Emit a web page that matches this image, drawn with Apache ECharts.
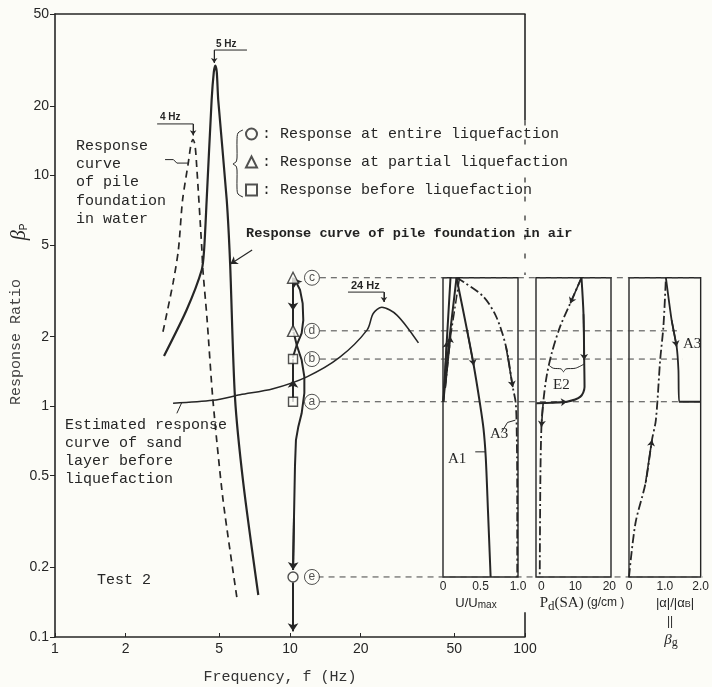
<!DOCTYPE html>
<html><head><meta charset="utf-8">
<script src="https://cdn.jsdelivr.net/npm/echarts@6/dist/echarts.min.js"></script>
<style>html,body{margin:0;padding:0;background:#fcfcf7}#c{width:712px;height:687px}</style>
</head><body><div id="c"></div>
<script>
// ================= DATA =================
const freqTicks  = [1, 2, 5, 10, 20, 50, 100];
const ratioTicks = [0.1, 0.2, 0.5, 1, 2, 5, 10, 20, 50];

// response curve of pile foundation in water (dashed)
const waterFreq  = [2.88, 3.18, 3.35, 3.49, 3.69, 3.79, 3.86, 3.94, 4.01, 4.21, 4.26, 4.43, 4.70, 5.19, 5.95];
const waterRatio = [2.10, 3.42, 4.75, 7.82, 11.3, 13.6, 14.3, 13.6, 10.9, 4.91, 3.89, 2.43, 1.06, 0.392, 0.147];
// response curve of pile foundation in air (solid)
const airFreq  = [2.91, 3.63, 4.21, 4.31, 4.42, 4.64, 4.74, 4.81, 4.88, 4.95, 5.38, 5.56, 5.83, 6.33, 7.33];
const airRatio = [1.65, 2.61, 3.89, 4.75, 7.82, 21.2, 28.0, 29.9, 28.0, 21.2, 7.82, 4.17, 1.10, 0.463, 0.152];
// estimated response curve of sand layer before liquefaction
const sandFreq  = [3.18, 4.70, 6.13, 8.47, 11.8, 16.3, 21.3, 22.6, 24.6, 26.6, 28.5, 31.4, 35.2];
const sandRatio = [1.03, 1.06, 1.12, 1.19, 1.34, 1.63, 2.14, 2.52, 2.68, 2.61, 2.48, 2.21, 1.88];

// response states at ~10 Hz
const levelNames = ['c', 'd', 'b', 'a', 'e'];
const levelRatio = [3.6, 2.12, 1.60, 1.045, 0.182];
const levelLineEndFreq = [572, 443, 470, 570, 572];
const markerFreq = 10.3;
const labelFreq = 12.4;
const levelLineStartFreq = 13.4;

// path of the response at ~10 Hz
const pathABFreq = [10.3, 10.3, 10.3],  pathABRatio = [1.045, 1.30, 1.60];
const pathBCFreq = [10.27, 10.68, 11.21, 11.39, 11.32, 11.03, 10.60, 10.35];
const pathBCRatio = [1.62, 1.84, 2.07, 2.36, 2.79, 3.19, 3.46, 3.58];
const pathCDFreq = [10.3, 10.3, 10.3], pathCDRatio = [3.6, 2.6, 2.12];
const pathDEFreq = [10.35, 10.68, 11.21, 11.51, 11.51, 11.21, 10.85, 10.60, 10.50, 10.40, 10.30];
const pathDERatio = [2.10, 1.84, 1.585, 1.34, 1.14, 0.931, 0.815, 0.713, 0.55, 0.33, 0.195];
const pathEndFreq = [10.3, 10.3], pathEndRatio = [0.172, 0.106];

// panel 1 : u/umax
const p1A1U = [0.18, 0.32, 0.41, 0.49, 0.54, 0.57, 0.60, 0.635];
const p1A1R = [3.6, 2.14, 1.5, 1.04, 0.8, 0.6, 0.35, 0.182];
const p1A3U = [0.18, 0.27, 0.54, 0.71, 0.84, 0.93, 0.97, 0.985, 0.99, 0.99];
const p1A3R = [3.6, 3.46, 2.98, 2.44, 1.81, 1.21, 1.03, 0.7, 0.4, 0.182];
const p1B1U = [0.005, 0.05, 0.10], p1B1R = [1.045, 1.9, 3.6];
const p1B2U = [0.005, 0.08, 0.18], p1B2R = [1.045, 1.9, 3.6];
const p1BdU = [0.03, 0.10, 0.22],  p1BdR = [1.2, 2.0, 3.6];
// panel 2 : Pd(SA)
const p2DashX = [11.8, 8.5, 5.5, 3.0, 1.5, 0.5, 0, -0.3, -0.5];
const p2DashR = [3.6, 2.79, 2.21, 1.69, 1.34, 1.03, 0.815, 0.5, 0.182];
const p2SolidX = [-1.5, 3, 7.5, 11.5, 12.7, 12.6, 12.4, 11.8];
const p2SolidR = [1.03, 1.035, 1.045, 1.10, 1.21, 1.585, 2.5, 3.6];
const p2BraceX = [2.3, 3.5, 5.8, 6.5, 7.2, 10, 12.5];
const p2BraceR = [1.50, 1.46, 1.45, 1.41, 1.45, 1.46, 1.52];
// panel 3 : |a|/|aB|
const p3DashX = [0, 0.18, 0.46, 0.64, 0.75, 0.87, 0.96, 1.03];
const p3DashR = [0.182, 0.311, 0.463, 0.713, 0.871, 1.585, 2.21, 3.6];
const p3A3X = [1.03, 1.19, 1.33, 1.38, 1.40, 2.0];
const p3A3R = [3.6, 2.36, 1.81, 1.43, 1.045, 1.045];

const panelTicks = [[0, 0.5, 1.0], [0, 10, 20], [0, 1.0, 2.0]];
const panelRange = [[0, 1.0], [-1.6, 20.5], [0, 2.0]];

// annotation leaders (freq, ratio)
const hz4Leader = [[2.72, 16.7], [3.87, 16.7], [3.87, 14.9]];
const hz5Leader = [[6.56, 34.9], [4.76, 34.9], [4.76, 30.7]];
const hz24Leader = [[17.65, 3.12], [25.1, 3.12], [25.1, 2.83]];
const waterLeader = [[2.94, 11.7], [3.19, 11.7], [3.30, 11.3], [3.69, 11.3]];
const sandLeader = [[3.30, 0.931], [3.46, 1.035]];
const airLeader = [[6.9, 4.75], [5.58, 4.13]];
const borderSolid = [[100, 50], [100, 17.3]];
const borderBroken = [[100, 17.3], [100, 3.7]];
const borderLow = [[100, 0.1], [100, 0.128]];

// ================= BUILD =================
const L = Math.log10;
const P = (f, v) => [L(f), L(v)];
const zipF = (fs, vs) => fs.map((f, i) => P(f, vs[i]));
const zipU = (us, vs) => us.map((u, i) => [u, L(vs[i])]);
const ptsF = arr => arr.map(p => P(p[0], p[1]));

const INK = '#262626', BG = '#fcfcf7';
const MONO = '"Liberation Mono", "DejaVu Sans Mono", monospace';
const SANS = '"Liberation Sans", Arial, sans-serif';
const SERIF = '"Liberation Serif", serif';

// main grid geometry
const G = {left: 55, top: 14, width: 470, height: 623};
const yMinL = -1, yMaxL = L(50);
const pxOfRatio = v => G.top + (yMaxL - L(v)) / (yMaxL - yMinL) * G.height;
const panelTop = pxOfRatio(levelRatio[0]);
const panelBottom = pxOfRatio(levelRatio[4]);
const panelLeft = [443, 536, 629], panelWidth = [75, 75, 74];

const grids = [{left: G.left, top: G.top, width: G.width, height: G.height}];
panelLeft.forEach((l, i) => grids.push({left: l, top: panelTop, width: panelWidth[i],
  height: panelBottom - panelTop, show: true, borderColor: INK, borderWidth: 1.4, backgroundColor: 'transparent'}));

const xAxes = [
  {type: 'value', gridIndex: 0, min: 0, max: 2,
   axisLine: {onZero: false, lineStyle: {color: INK, width: 1.6}},
   axisTick: {inside: true, length: 4, lineStyle: {color: INK}, customValues: freqTicks.map(L)},
   axisLabel: {customValues: freqTicks.map(L), formatter: v => String(Math.round(Math.pow(10, v))),
     color: INK, fontFamily: SANS, fontSize: 14, margin: 5},
   splitLine: {show: false}},
  {type: 'value', gridIndex: 0, min: 0, max: 2, position: 'top',
   axisLine: {show: true, onZero: false, lineStyle: {color: INK, width: 1.6}}, axisTick: {show: false},
   axisLabel: {show: false}, splitLine: {show: false}}
];
panelTicks.forEach((t, i) => xAxes.push({type: 'value', gridIndex: i + 1,
  min: panelRange[i][0], max: panelRange[i][1],
  axisLine: {show: false, onZero: false}, axisTick: {show: false}, splitLine: {show: false},
  axisLabel: {customValues: t, formatter: v => (i === 1 ? String(v) : (v === 0 ? '0' : v.toFixed(1))),
    color: INK, fontFamily: SANS, fontSize: 12, margin: 4}}));

const yAxes = [
  {type: 'value', gridIndex: 0, min: yMinL, max: yMaxL,
   axisLine: {show: true, onZero: false, lineStyle: {color: INK, width: 1.6}},
   axisTick: {show: true, inside: false, length: 5, lineStyle: {color: INK}, customValues: ratioTicks.map(L)},
   axisLabel: {customValues: ratioTicks.map(L), formatter: v => String(+Math.pow(10, v).toPrecision(2)),
     color: INK, fontFamily: SANS, fontSize: 14, margin: 6},
   splitLine: {show: false}}
];
[1, 2, 3].forEach(g => yAxes.push({type: 'value', gridIndex: g, min: L(levelRatio[4]), max: L(levelRatio[0]), show: false}));

function lines(polys, style, axes) {
  return {type: 'lines', coordinateSystem: 'cartesian2d', polyline: true, silent: true, clip: false,
    xAxisIndex: axes[0], yAxisIndex: axes[1], animation: false,
    data: polys.map(c => ({coords: c})),
    lineStyle: Object.assign({color: INK, width: 1, opacity: 1}, style), z: 3};
}
// two-point segments ending with an arrowhead
function arrows(segs, style, axes, size) {
  return {type: 'lines', coordinateSystem: 'cartesian2d', polyline: false, silent: true, clip: false,
    xAxisIndex: axes[0], yAxisIndex: axes[1], animation: false,
    symbol: ['none', 'arrow'], symbolSize: size,
    data: segs.map(c => ({coords: c})),
    lineStyle: Object.assign({color: INK, width: 1, opacity: 1}, style), z: 4};
}
const seg = (poly, k) => poly.slice(k - 1, k + 1); // piece ending at point k
const last = poly => poly.slice(-2);

function curve(data, style, axes, smooth) {
  return {type: 'line', data, showSymbol: false, silent: true, animation: false, clip: false,
    smooth: smooth === undefined ? 0.3 : smooth, xAxisIndex: axes[0], yAxisIndex: axes[1],
    lineStyle: Object.assign({color: INK, width: 1.5}, style), z: 3};
}

const M = [0, 0];
const water = zipF(waterFreq, waterRatio);
const air = zipF(airFreq, airRatio);
const sand = zipF(sandFreq, sandRatio);
const pAB = zipF(pathABFreq, pathABRatio), pBC = zipF(pathBCFreq, pathBCRatio);
const pCD = zipF(pathCDFreq, pathCDRatio), pDE = zipF(pathDEFreq, pathDERatio);
const pEnd = zipF(pathEndFreq, pathEndRatio);
const h4 = ptsF(hz4Leader), h5 = ptsF(hz5Leader), h24 = ptsF(hz24Leader), aL = ptsF(airLeader);

const levelLines = levelRatio.map((r, i) => [P(i === 4 ? 13.1 : levelLineStartFreq, r), P(levelLineEndFreq[i], r)]);

const A1 = zipU(p1A1U, p1A1R), A3 = zipU(p1A3U, p1A3R);
const B1 = zipU(p1B1U, p1B1R), B2 = zipU(p1B2U, p1B2R), Bd = zipU(p1BdU, p1BdR);
const D2 = zipU(p2DashX, p2DashR), S2 = zipU(p2SolidX, p2SolidR), BR2 = zipU(p2BraceX, p2BraceR);
const D3 = zipU(p3DashX, p3DashR), A33 = zipU(p3A3X, p3A3R);
const DASHDOT = [9, 3, 2, 3];

const markerStyle = {color: BG, borderColor: INK, borderWidth: 1.4};
const series = [
  curve(water, {width: 1.7, type: [7, 5]}, M, 0.25),
  curve(air, {width: 2.2}, M, 0.25),
  curve(sand, {width: 1.5}, M, 0.3),
  lines(levelLines, {type: [6, 5], width: 1, color: '#444'}, M),
  lines([ptsF(borderSolid)], {width: 1.6}, M),
  lines([ptsF(borderBroken)], {width: 1.2, type: [5, 14]}, M),
  lines([ptsF(borderLow)], {width: 1.6}, M),
  lines([pAB, pBC, pCD, pDE, pEnd], {width: 2}, M),
  arrows([seg(pAB, 1), seg(pCD, 1), last(pBC), last(pDE), pEnd], {width: 2}, M, 8),
  lines([h4, h5, h24], {width: 1}, M),
  arrows([last(h4), last(h5), last(h24)], {width: 1}, M, 5),
  lines([ptsF(waterLeader), ptsF(sandLeader)], {width: 1}, M),
  arrows([aL], {width: 1.2}, M, 7),
  {type: 'scatter', xAxisIndex: 0, yAxisIndex: 0, silent: true, animation: false, z: 5,
   symbol: 'circle', symbolSize: 15, itemStyle: {color: BG, borderColor: INK, borderWidth: 1},
   label: {show: true, position: 'inside', formatter: '{b}', color: INK, fontFamily: SANS, fontSize: 12},
   data: levelNames.map((n, i) => ({name: n, value: P(labelFreq, levelRatio[i])}))},
  {name: 'Response at entire liquefaction', type: 'scatter', xAxisIndex: 0, yAxisIndex: 0, z: 6,
   symbol: 'circle', symbolSize: 10, itemStyle: markerStyle, animation: false,
   data: [P(markerFreq, levelRatio[4])]},
  {name: 'Response at partial liquefaction', type: 'scatter', xAxisIndex: 0, yAxisIndex: 0, z: 6,
   symbol: 'triangle', symbolSize: 11, itemStyle: markerStyle, animation: false,
   data: [P(markerFreq, levelRatio[0]), P(markerFreq, levelRatio[1])]},
  {name: 'Response before liquefaction', type: 'scatter', xAxisIndex: 0, yAxisIndex: 0, z: 6,
   symbol: 'rect', symbolSize: 9, itemStyle: markerStyle, animation: false,
   data: [P(markerFreq, levelRatio[2]), P(markerFreq, levelRatio[3])]},
  curve(A1, {width: 2}, [2, 1], 0.3),
  curve(A3, {width: 1.8, type: DASHDOT}, [2, 1], 0.3),
  lines([B1, B2], {width: 2}, [2, 1]),
  lines([Bd], {width: 1.5, type: DASHDOT}, [2, 1]),
  arrows([seg(A1, 2), seg(A3, 5), seg(B1, 1), seg(Bd, 1)], {width: 1.6}, [2, 1], 6),
  lines([[[0.43, L(0.634)], [0.56, L(0.634)]], [[0.78, L(0.77)], [0.86, L(0.85)], [0.965, L(0.87)]]], {width: 1}, [2, 1]),
  curve(D2, {width: 1.8, type: DASHDOT}, [3, 2], 0.3),
  curve(S2, {width: 2}, [3, 2], 0.3),
  curve(BR2, {width: 1}, [3, 2], 0.3),
  arrows([seg(D2, 1), seg(D2, 6), seg(S2, 2), [S2[6], S2[5]]], {width: 1.6}, [3, 2], 6),
  curve(D3, {width: 1.8, type: DASHDOT}, [4, 3], 0.3),
  curve(A33, {width: 1.8}, [4, 3], 0.2),
  arrows([seg(D3, 3), seg(A33, 2)], {width: 1.6}, [4, 3], 6)
];

const txt = (text, x, y, font, extra) => ({type: 'text', x, y, silent: true,
  style: Object.assign({text, font, fill: INK, verticalAlign: 'top'}, extra || {})});
const F15 = '15px ' + MONO;
const graphic = [
  txt('Response\ncurve\nof pile\nfoundation\nin water', 76, 137, F15, {lineHeight: 18.2}),
  txt('Response curve of pile foundation in air', 246, 227, 'bold 13.6px ' + MONO, {fill: '#222'}),
  txt('Estimated response\ncurve of sand\nlayer before\nliquefaction', 65, 416, F15, {lineHeight: 18}),
  txt('Test 2', 97, 573, F15),
  txt('4 Hz', 160, 112, 'bold 10px ' + SANS),
  txt('5 Hz', 216, 39, 'bold 10px ' + SANS),
  txt('24 Hz', 351, 280, 'bold 11px ' + SANS),
  txt('A1', 448, 452, '15px ' + SERIF),
  txt('A3', 490, 427, '15px ' + SERIF),
  txt('E2', 553, 378, '15px ' + SERIF),
  txt('A3', 683, 337, '15px ' + SERIF),
  {type: 'text', x: 280, y: 677, silent: true, style: {text: 'Frequency, f (Hz)', font: F15, fill: '#333', align: 'center', verticalAlign: 'middle'}},
  {type: 'text', x: 16, y: 342, rotation: Math.PI / 2, silent: true,
   style: {text: 'Response Ratio', font: F15, fill: '#444', align: 'center', verticalAlign: 'middle'}},
  {type: 'text', x: 20, y: 232, rotation: Math.PI / 2, silent: true,
   style: {text: '{b|β}{s|P}', align: 'center', verticalAlign: 'middle',
     rich: {b: {font: 'italic 20px ' + SERIF, fill: INK}, s: {font: '10px ' + SANS, fill: INK, padding: [8, 0, 0, 0]}}}},
  {type: 'text', x: 476, y: 603, silent: true,
   style: {text: '{n|U/U}{s|max}', align: 'center', verticalAlign: 'middle',
     rich: {n: {font: '13px ' + SANS, fill: INK}, s: {font: '10px ' + SANS, fill: INK, padding: [5, 0, 0, 0]}}}},
  {type: 'text', x: 582, y: 603, silent: true,
   style: {text: '{p|P}{s|d}{p|(SA)} {n|(g/cm )}', align: 'center', verticalAlign: 'middle',
     rich: {p: {font: '15px ' + SERIF, fill: INK}, s: {font: '13px ' + SERIF, fill: INK, padding: [8, 0, 0, 0]},
       n: {font: '12px ' + SANS, fill: INK}}}},
  {type: 'text', x: 675, y: 603, silent: true,
   style: {text: '|α|/|α{s|B}|', font: '13px ' + SANS, fill: INK, align: 'center', verticalAlign: 'middle',
     rich: {s: {font: '9px ' + SANS, fill: INK, padding: [4, 0, 0, 0]}}}},
  {type: 'text', x: 670, y: 622, silent: true,
   style: {text: '||', font: '12px ' + SANS, fill: INK, align: 'center', verticalAlign: 'middle'}},
  {type: 'text', x: 671, y: 640, silent: true,
   style: {text: '{b|β}{s|g}', align: 'center', verticalAlign: 'middle',
     rich: {b: {font: 'italic 15px ' + SERIF, fill: INK}, s: {font: '12px ' + SERIF, fill: INK, padding: [5, 0, 0, 0]}}}},
  {type: 'polyline', silent: true,
   shape: {points: [[243, 130], [238, 133], [237, 140], [237, 158], [236, 162], [233, 164], [236, 166], [237, 170], [237, 188], [238, 194], [243, 197]], smooth: 0.3},
   style: {stroke: INK, lineWidth: 1, fill: null}}
];

const chart = echarts.init(document.getElementById('c'), null, {renderer: 'canvas'});
chart.setOption({
  backgroundColor: BG,
  animation: false,
  grid: grids,
  xAxis: xAxes,
  yAxis: yAxes,
  legend: {orient: 'vertical', left: 240, top: 120, itemWidth: 11, itemHeight: 11, itemGap: 10,
    selectedMode: false,
    data: ['Response at entire liquefaction', 'Response at partial liquefaction', 'Response before liquefaction'],
    formatter: n => ': ' + n,
    textStyle: {fontFamily: MONO, fontSize: 15, color: INK, lineHeight: 18}},
  series,
  graphic
});
</script>
</body></html>
